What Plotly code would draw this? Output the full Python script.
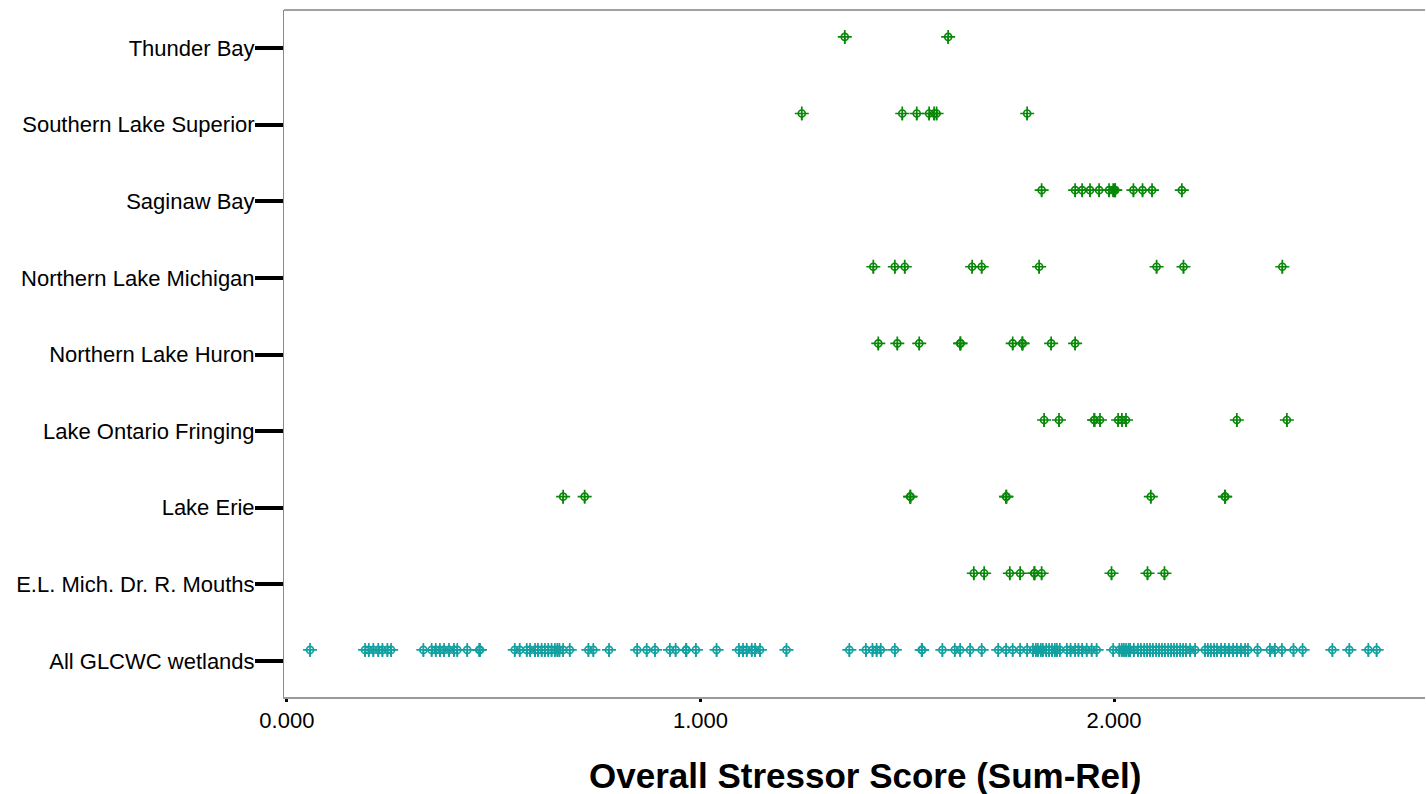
import plotly.graph_objects as go

categories = ["All GLCWC wetlands", "E.L. Mich. Dr. R. Mouths", "Lake Erie",
              "Lake Ontario Fringing", "Northern Lake Huron", "Northern Lake Michigan",
              "Saginaw Bay", "Southern Lake Superior", "Thunder Bay"]

all_glcwc = [0.056, 0.189, 0.198, 0.209, 0.221, 0.231, 0.243, 0.252, 0.330, 0.350, 0.360,
             0.370, 0.380, 0.392, 0.404, 0.412, 0.436, 0.465, 0.467, 0.551, 0.563, 0.580,
             0.588, 0.600, 0.607, 0.616, 0.624, 0.632, 0.640, 0.648, 0.654, 0.659, 0.668,
             0.684, 0.729, 0.741, 0.779, 0.847, 0.870, 0.890, 0.926, 0.940, 0.965, 0.966,
             0.989, 1.039, 1.093, 1.103, 1.112, 1.124, 1.132, 1.144, 1.208, 1.360, 1.400,
             1.416, 1.426, 1.436, 1.470, 1.535, 1.536, 1.585, 1.615, 1.628, 1.652, 1.680,
             1.720, 1.739, 1.755, 1.773, 1.790, 1.804, 1.811, 1.816, 1.823, 1.828, 1.836,
             1.843, 1.850, 1.857, 1.862, 1.869, 1.886, 1.895, 1.906, 1.914, 1.923, 1.934,
             1.946, 1.958, 1.998, 2.013, 2.019, 2.024, 2.029, 2.035, 2.039, 2.048, 2.058,
             2.065, 2.073, 2.080, 2.087, 2.094, 2.102, 2.109, 2.116, 2.123, 2.131, 2.138,
             2.145, 2.152, 2.160, 2.167, 2.174, 2.184, 2.196, 2.220, 2.227, 2.234, 2.242,
             2.249, 2.259, 2.268, 2.278, 2.288, 2.297, 2.307, 2.317, 2.324, 2.347, 2.377,
             2.389, 2.406, 2.434, 2.456, 2.528, 2.569, 2.615, 2.635]
el_mich = [1.661, 1.686, 1.748, 1.773, 1.807, 1.808, 1.825, 1.994, 2.081, 2.122]
lake_erie = [0.668, 0.720, 1.507, 1.508, 1.739, 1.740, 2.089, 2.268, 2.269]
lake_ontario = [1.831, 1.867, 1.952, 1.953, 1.966, 2.010, 2.019, 2.029, 2.297, 2.418]
n_lake_huron = [1.430, 1.476, 1.529, 1.628, 1.629, 1.755, 1.778, 1.779, 1.848, 1.906]
n_lake_michigan = [1.418, 1.470, 1.494, 1.657, 1.680, 1.819, 2.103, 2.168, 2.407]
saginaw_bay = [1.825, 1.906, 1.923, 1.942, 1.964, 1.988, 1.998, 2.002, 2.003, 2.047,
               2.069, 2.092, 2.164]
s_lake_superior = [1.245, 1.488, 1.523, 1.553, 1.565, 1.571, 1.790]
thunder_bay = [1.349, 1.599]

series = [all_glcwc, el_mich, lake_erie, lake_ontario, n_lake_huron,
          n_lake_michigan, saginaw_bay, s_lake_superior, thunder_bay]

x_tickvals = [0, 1, 2]
x_ticktext = ["0.000", "1.000", "2.000"]
x_title = "Overall Stressor Score (Sum-Rel)"

GREEN = "#088808"
TEAL = "#12a0a0"
OFFSET = 0.145
STEM = 0.085

fig = go.Figure()
for i, vals in enumerate(series):
    color = TEAL if i == 0 else GREEN
    ys = [i + OFFSET] * len(vals)
    fig.add_trace(go.Scatter(
        x=vals, y=ys, mode="markers",
        marker=dict(symbol="cross-thin-open", size=10, color=color,
                    line=dict(color=color, width=1.7)),
        error_y=dict(type="data", symmetric=False, array=[0] * len(vals),
                     arrayminus=[STEM] * len(vals), width=0, thickness=1.7, color=color),
        showlegend=False, hoverinfo="x"))
    fig.add_trace(go.Scatter(
        x=vals, y=ys, mode="markers",
        marker=dict(symbol="circle-open", size=7, color=color,
                    line=dict(color=color, width=1.7)),
        showlegend=False, hoverinfo="skip"))

fig.update_layout(
    width=1426, height=794,
    margin=dict(l=284, r=1, t=10, b=97),
    paper_bgcolor="white", plot_bgcolor="white",
    font=dict(family="Liberation Sans, Arial, sans-serif", color="black"),
    xaxis=dict(range=[-0.007, 2.752], tickvals=x_tickvals, ticktext=x_ticktext,
               showgrid=False, zeroline=False, showline=True, linecolor="#9a9a9a",
               linewidth=2, ticks="outside", ticklen=3, tickwidth=3, tickcolor="black",
               tickfont=dict(size=22)),
    yaxis=dict(range=[-0.47, 8.496], tickvals=list(range(len(categories))),
               ticktext=categories, showgrid=False, zeroline=False, showline=True,
               linecolor="#8a8a8a", linewidth=1, ticks="outside", ticklen=28,
               tickwidth=4, tickcolor="black", tickfont=dict(size=22),
               ticklabelstandoff=-4),
    shapes=[dict(type="line", xref="paper", yref="paper", x0=0, x1=1, y0=1, y1=1,
                 line=dict(color="#444444", width=1))],
    annotations=[dict(text="<b>" + x_title + "</b>", xref="paper", yref="paper",
                      x=0.509, y=0, yshift=-78, xanchor="center", yanchor="middle",
                      showarrow=False, font=dict(size=35, color="black"))],
)

fig.write_html("out.html", config={"displayModeBar": False},
               post_script="document.body.style.margin='0';document.body.style.overflow='hidden';")
